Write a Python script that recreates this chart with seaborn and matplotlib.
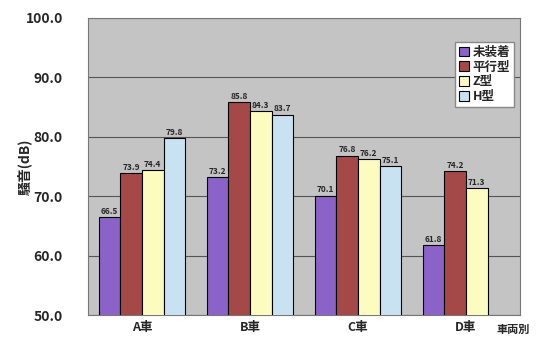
import matplotlib
matplotlib.use("Agg")
import matplotlib.pyplot as plt
import seaborn as sns
import pandas as pd
import numpy as np

categories = ["A車", "B車", "C車", "D車"]
series = ["未装着", "平行型", "Z型", "H型"]
v_none = [66.5, 73.2, 70.1, 61.8]
v_parallel = [73.9, 85.8, 76.8, 74.2]
v_z = [74.4, 84.3, 76.2, 71.3]
v_h = [79.8, 83.7, 75.1, np.nan]
yticks = [50.0, 60.0, 70.0, 80.0, 90.0, 100.0]

colors = ["#8a62c8", "#a54848", "#fdfcc0", "#c8e2f2"]

rows = []
for s, vals in zip(series, [v_none, v_parallel, v_z, v_h]):
    for c, v in zip(categories, vals):
        rows.append({"car": c, "type": s, "val": v})
df = pd.DataFrame(rows)

sns.set_theme(style="white")
plt.rcParams['font.family'] = ['Noto Sans CJK JP', 'DejaVu Sans']

fig = plt.figure(figsize=(5.36, 3.44), dpi=100)
ax = fig.add_axes([0.164, 0.084, 0.806, 0.864])
ax.set_facecolor("#c4c4c4")

sns.barplot(data=df, x="car", y="val", hue="type", order=categories,
            hue_order=series, palette=colors, ax=ax, width=0.8,
            edgecolor="black", linewidth=0.8, saturation=1, zorder=3)

ax.set_ylim(50, 100)
ax.set_yticks(yticks)
ax.set_yticklabels([f"{t:.1f}" for t in yticks], fontsize=10, fontweight="bold")
ax.yaxis.grid(True, color="#555555", linewidth=0.8, zorder=0)
ax.set_axisbelow(True)
ax.tick_params(axis="y", length=0, pad=18)
ax.tick_params(axis="x", length=0, pad=4)
for lab in ax.get_xticklabels():
    lab.set_fontweight("bold")
    lab.set_fontsize(9)
ax.set_xlabel("")
ax.set_ylabel("騒音(dB)", fontsize=10, fontweight="bold", labelpad=0)
ax.yaxis.set_label_coords(-0.13, 0.5)
for sp in ax.spines.values():
    sp.set_color("#777777")
    sp.set_linewidth(0.8)

for cont in ax.containers:
    labs = [("" if np.isnan(v) else f"{v:.1f}") for v in cont.datavalues]
    ax.bar_label(cont, labels=labs, fontsize=6, fontweight="bold", padding=1)

ax.text(0.985, -0.028, "車両別", transform=ax.transAxes, ha="center", va="top",
        fontsize=8, fontweight="bold")

leg = ax.legend(loc="upper right", bbox_to_anchor=(1.0, 0.94), fontsize=9,
                frameon=True, fancybox=False, framealpha=1, edgecolor="#888888",
                handlelength=0.8, handleheight=0.8, handletextpad=0.3,
                borderpad=0.3, labelspacing=0.15)
for t in leg.get_texts():
    t.set_fontweight("bold")

fig.savefig("out.png", dpi=100)
